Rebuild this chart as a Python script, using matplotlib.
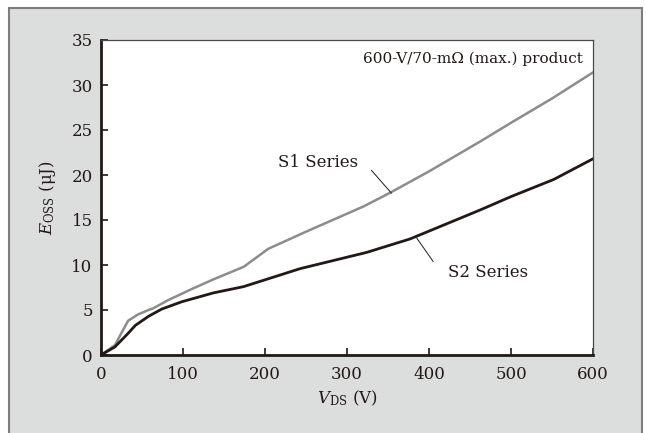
import numpy as np
import matplotlib.pyplot as plt
from matplotlib.patches import Rectangle

# Eoss vs Vds
vds_s1 = [0, 17, 33, 45, 58, 64, 82, 110, 137, 174, 204, 250, 320, 352, 400, 462, 500, 550, 600]
eoss_s1 = [0, 1.1, 3.8, 4.5, 5.0, 5.2, 6.1, 7.3, 8.4, 9.8, 11.8, 13.7, 16.5, 18.0, 20.4, 23.7, 25.8, 28.5, 31.4]

vds_s2 = [0, 17, 33, 42, 58, 74, 98, 137, 174, 243, 324, 377, 462, 500, 552, 600]
eoss_s2 = [0, 0.9, 2.4, 3.3, 4.3, 5.1, 5.9, 6.9, 7.6, 9.6, 11.4, 12.9, 16.1, 17.6, 19.5, 21.8]

x_ticks = [0, 100, 200, 300, 400, 500, 600]
y_ticks = [0, 5, 10, 15, 20, 25, 30, 35]

plt.rcParams['font.family'] = 'DejaVu Serif'
plt.rcParams['mathtext.fontset'] = 'dejavuserif'
ink = '#231815'

W, H = 646, 433
fig = plt.figure(figsize=(W / 100, H / 100), dpi=100)
fig.patch.set_facecolor('white')
frame = Rectangle((9 / W, -0.05), (642 - 9) / W, 1.05 - 8 / H,
                  transform=fig.transFigure, facecolor='#dcdddd',
                  edgecolor='#7d7d7d', lw=1.5, zorder=-5)
fig.patches.append(frame)

ax = fig.add_axes([101 / W, 1 - 355 / H, (593 - 101) / W, (355 - 40) / H])
ax.set_zorder(2)
ax.set_facecolor('white')

ax.plot(vds_s1, eoss_s1, color='#8c8c8c', lw=1.8, solid_joinstyle='round')
ax.plot(vds_s2, eoss_s2, color=ink, lw=2.0, solid_joinstyle='round')

ax.set_xlim(0, 600)
ax.set_ylim(0, 35)
ax.set_xticks(x_ticks)
ax.set_yticks(y_ticks)
ax.tick_params(direction='in', length=5, width=1.2, colors=ink, labelsize=12)
ax.tick_params(axis='x', pad=8)
ax.tick_params(axis='y', pad=6)

for side in ['left', 'bottom']:
    ax.spines[side].set_linewidth(2.0)
    ax.spines[side].set_color(ink)
for side in ['top', 'right']:
    ax.spines[side].set_linewidth(0.9)
    ax.spines[side].set_color('#4a4a4a')

ax.set_xlabel(r'$V_{\mathregular{DS}}$ (V)', fontsize=12, color=ink, labelpad=4)
ax.set_ylabel(r'$E_{\mathregular{OSS}}$ (μJ)', fontsize=12, color=ink, labelpad=10)

ax.text(0.98, 0.94, '600-V/70-mΩ (max.) product', transform=ax.transAxes,
        ha='right', va='center', fontsize=11, color=ink)

# series callouts
ax.text(265, 21.4, 'S1 Series', ha='center', va='center', fontsize=12, color=ink)
ax.plot([330, 354], [20.5, 18.0], color=ink, lw=0.7)
ax.text(472, 9.2, 'S2 Series', ha='center', va='center', fontsize=12, color=ink)
ax.plot([385, 405], [13.0, 10.4], color=ink, lw=0.7)

fig.savefig('out.png', dpi=100)
